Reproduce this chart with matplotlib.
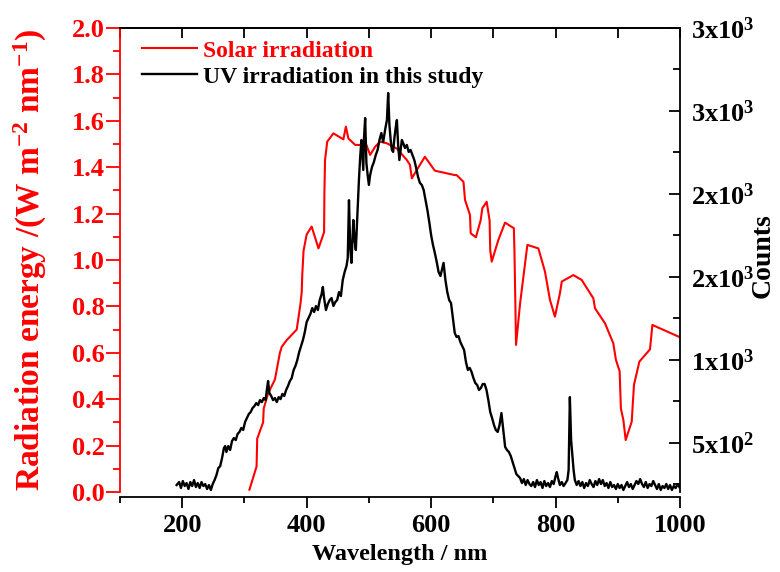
import matplotlib
matplotlib.use("Agg")
import matplotlib.pyplot as plt
from matplotlib.ticker import MultipleLocator, FixedLocator, FixedFormatter, FormatStrFormatter, NullFormatter

# solar spectrum (left axis, W m-2 nm-1)
solar_nm = [308, 319.5, 320.5, 330, 331, 338, 349, 357, 360, 368, 384, 390, 392, 393, 395, 400,
            408, 419, 428, 428.5, 429.5, 433, 443, 459, 463, 467, 478, 496, 502, 510, 518, 529,
            545, 561, 566, 569, 577, 590, 606, 638, 641, 652, 654.5, 662.5, 663.6, 672, 679.7,
            682.3, 689.3, 694, 695, 697.4, 708, 718.8, 733, 734, 736.5, 743, 754.7, 772.4, 783,
            791, 799, 807, 810, 828.6, 842, 860.7, 863.4, 879.5, 892.8, 897, 903, 905, 909,
            912.7, 922.4, 926, 934.7, 951.8, 955.6, 1000]
solar_val = [0.01, 0.11, 0.23, 0.30, 0.36, 0.425, 0.485, 0.60, 0.626, 0.655, 0.70, 0.81, 0.86,
             0.94, 1.04, 1.11, 1.144, 1.05, 1.12, 1.29, 1.43, 1.51, 1.546, 1.52, 1.575, 1.524,
             1.496, 1.496, 1.453, 1.488, 1.51, 1.503, 1.48, 1.431, 1.41, 1.352, 1.388, 1.445,
             1.385, 1.366, 1.366, 1.337, 1.259, 1.194, 1.115, 1.098, 1.172, 1.223, 1.251, 1.17,
             1.043, 0.993, 1.086, 1.161, 1.137, 1.03, 0.634, 0.813, 1.065, 1.05, 0.95, 0.828,
             0.756, 0.856, 0.907, 0.935, 0.914, 0.835, 0.792, 0.727, 0.641, 0.57, 0.52, 0.36,
             0.31, 0.224, 0.303, 0.461, 0.562, 0.615, 0.72, 0.667]

# UV lamp spectrum (right axis, counts)
uv_nm = [191, 195, 198, 201, 204, 207, 210, 213, 216, 219, 222, 225, 228, 231, 234, 237, 240,
         243, 246, 249, 252, 255, 258, 261, 264, 267, 269, 271, 274, 277, 280, 283, 286, 289,
         292, 295, 298, 301, 304, 307, 310, 313, 316, 319, 322, 325, 328, 331, 334, 336, 338,
         340, 343, 346, 349, 352, 355, 358, 361, 364, 367, 370, 373, 376, 379, 382, 385, 388,
         391, 394, 397, 400, 403, 406, 409, 412, 415, 418, 421, 424, 426, 428, 431, 434, 437,
         440, 443, 446, 449, 452, 455, 458, 461, 464, 466, 468, 470, 472, 475, 477, 479, 482,
         484, 486, 488, 490, 491, 492, 494, 496, 498, 500, 502, 505, 508, 511, 514, 517, 520,
         523, 526, 529, 531, 533, 535, 537, 539, 541, 543, 545, 547, 549, 551, 553, 555, 558,
         561, 564, 567, 570, 573, 576, 579, 582, 585, 588, 591, 594, 597, 600, 603, 606, 609,
         612, 615, 618, 620, 623, 626, 629, 632, 635, 638, 641, 644, 647, 650, 653, 656, 659,
         662, 665, 668, 671, 674, 677, 680, 683, 686, 689, 692, 695, 698, 701, 704, 707, 710,
         713, 716, 719, 722, 725, 728, 731, 734, 737, 740, 743, 746, 749, 752, 755, 758, 761,
         764, 767, 770, 773, 776, 779, 782, 785, 788, 791, 794, 797, 800, 802, 804, 807, 810,
         813, 816, 819, 821, 823, 825, 827, 829, 831, 834, 837, 840, 843, 846, 849, 852, 855,
         858, 861, 864, 867, 870, 873, 876, 879, 882, 885, 888, 891, 894, 897, 900, 903, 906,
         909, 912, 915, 918, 921, 924, 927, 930, 933, 936, 939, 942, 945, 948, 951, 954, 957,
         960, 963, 966, 969, 972, 975, 978, 981, 984, 987, 990, 993, 996, 999]
uv_counts = [245, 263, 227, 269, 239, 257, 221, 263, 239, 275, 233, 257, 227, 263, 239, 251, 221,
             245, 215, 251, 275, 305, 347, 359, 407, 468, 480, 444, 480, 456, 510, 528, 516, 553,
             565, 589, 577, 625, 649, 673, 685, 709, 721, 739, 727, 757, 745, 769, 757, 818, 872,
             800, 782, 757, 769, 745, 775, 763, 794, 782, 818, 842, 872, 890, 938, 963, 999, 1047,
             1083, 1119, 1167, 1228, 1252, 1276, 1312, 1288, 1324, 1300, 1360, 1396, 1439, 1372,
             1300, 1336, 1360, 1372, 1324, 1348, 1360, 1408, 1384, 1481, 1529, 1565, 1613, 1962,
             1674, 1584, 1843, 1722, 1662, 1921, 2084, 2222, 2325, 2204, 2144, 2325, 2457, 2186,
             2114, 2054, 2114, 2162, 2192, 2234, 2265, 2325, 2367, 2313, 2385, 2445, 2608, 2415,
             2325, 2265, 2253, 2337, 2397, 2445, 2295, 2204, 2265, 2325, 2307, 2277, 2295, 2253,
             2265, 2234, 2204, 2156, 2102, 2066, 2054, 2024, 1963, 1903, 1831, 1752, 1692, 1644,
             1590, 1529, 1505, 1553, 1584, 1481, 1408, 1360, 1342, 1252, 1161, 1137, 1143, 1107,
             1083, 1059, 987, 939, 951, 927, 890, 860, 848, 818, 830, 854, 854, 818, 757, 685,
             649, 607, 577, 565, 607, 679, 577, 474, 456, 444, 420, 384, 347, 311, 299, 287, 257,
             281, 245, 275, 251, 239, 263, 233, 275, 245, 263, 227, 269, 239, 257, 233, 269, 251,
             299, 323, 287, 245, 263, 239, 257, 275, 335, 775, 516, 426, 335, 275, 245, 269, 239,
             263, 227, 257, 239, 275, 251, 233, 269, 245, 281, 251, 275, 239, 257, 227, 263, 233,
             245, 221, 251, 227, 245, 215, 239, 263, 233, 251, 221, 245, 269, 251, 281, 251, 233,
             263, 227, 251, 239, 269, 245, 221, 251, 215, 239, 227, 251, 221, 245, 215, 239, 227,
             251, 233]

x_major = [200, 400, 600, 800, 1000]
x_minor = [100, 300, 500, 700, 900]
right_major = [500, 1000, 1500, 2000, 2500, 3000]
right_minor = [250, 750, 1250, 1750, 2250, 2750]
right_labels = ['5x10$^{2}$', '1x10$^{3}$', '2x10$^{3}$', '2x10$^{3}$', '3x10$^{3}$', '3x10$^{3}$']

plt.rcParams['font.family'] = 'Liberation Serif'
plt.rcParams['font.weight'] = 'bold'
plt.rcParams['axes.labelweight'] = 'bold'
plt.rcParams['mathtext.fontset'] = 'custom'
plt.rcParams['mathtext.rm'] = 'Liberation Serif:bold'
plt.rcParams['mathtext.bf'] = 'Liberation Serif:bold'
plt.rcParams['mathtext.it'] = 'Liberation Serif:bold:italic'
plt.rcParams['mathtext.default'] = 'bf'

fig = plt.figure(figsize=(7.8, 5.72), dpi=100)
ax = fig.add_axes([120/780, 80/572, 560/780, 464/572])

l1, = ax.plot(solar_nm, solar_val, color='red', lw=1.5)
ax.set_xlim(100, 1000)
ax.set_ylim(0, 2.0)

ax2 = ax.twinx()
l2, = ax2.plot(uv_nm, uv_counts, color='black', lw=1.7)
ax2.set_ylim(203, 3000)

lw = 1.3
ax.spines['left'].set_color('red')
ax.spines['right'].set_visible(False)
ax.spines['bottom'].set_position(('outward', 3.6))
for s in ax.spines.values():
    s.set_linewidth(lw)
for name in ['left', 'top', 'bottom']:
    ax2.spines[name].set_visible(False)
ax2.spines['right'].set_linewidth(lw)

# bottom axis
ax.xaxis.set_major_locator(FixedLocator(x_major))
ax.xaxis.set_minor_locator(FixedLocator(x_minor))
ax.tick_params(axis='x', which='major', direction='out', length=8, width=lw, labelsize=19, pad=4)
ax.tick_params(axis='x', which='minor', direction='out', length=4, width=lw)

# top axis ticks (inward, no labels)
top = ax.secondary_xaxis('top')
top.xaxis.set_major_locator(MultipleLocator(100))
top.xaxis.set_major_formatter(NullFormatter())
top.tick_params(direction='in', length=7, width=lw)
top.spines['top'].set_linewidth(lw)

# left axis
ax.yaxis.set_major_locator(MultipleLocator(0.2))
ax.yaxis.set_minor_locator(MultipleLocator(0.1))
ax.yaxis.set_major_formatter(FormatStrFormatter('%.1f'))
ax.tick_params(axis='y', which='major', direction='out', length=10, width=lw,
               colors='red', labelsize=19, pad=1)
ax.tick_params(axis='y', which='minor', direction='out', length=5, width=lw, colors='red')

# right axis
ax2.yaxis.set_major_locator(FixedLocator(right_major))
ax2.yaxis.set_major_formatter(FixedFormatter(right_labels))
ax2.yaxis.set_minor_locator(FixedLocator(right_minor))
ax2.tick_params(axis='y', which='major', direction='in', length=8, width=lw, labelsize=19, pad=8)
ax2.tick_params(axis='y', which='minor', direction='in', length=5, width=lw)

ax.set_ylabel('Radiation energy /(W m$^{-2}$ nm$^{-1}$)', color='red', fontsize=24,
              fontweight='bold', va='center')
ax.yaxis.set_label_coords(-0.159, 0.5)
ax.set_xlabel('Wavelength / nm', fontsize=17.5, fontweight='bold', va='center')
ax.xaxis.set_label_coords(0.5, -0.134)
ax2.set_ylabel('Counts', fontsize=20, fontweight='bold', va='center')
ax2.yaxis.set_label_coords(1.148, 0.509)

leg = ax2.legend([l1, l2], ['Solar irradiation', 'UV irradiation in this study'],
                 loc='upper left', bbox_to_anchor=(0.0388, 0.974), frameon=False,
                 fontsize=17, handlelength=2.33, handletextpad=0.27, labelspacing=0.19,
                 borderpad=0, borderaxespad=0)
leg.get_texts()[0].set_color('red')

fig.savefig('out.png', dpi=100)
print("saved out.png")
